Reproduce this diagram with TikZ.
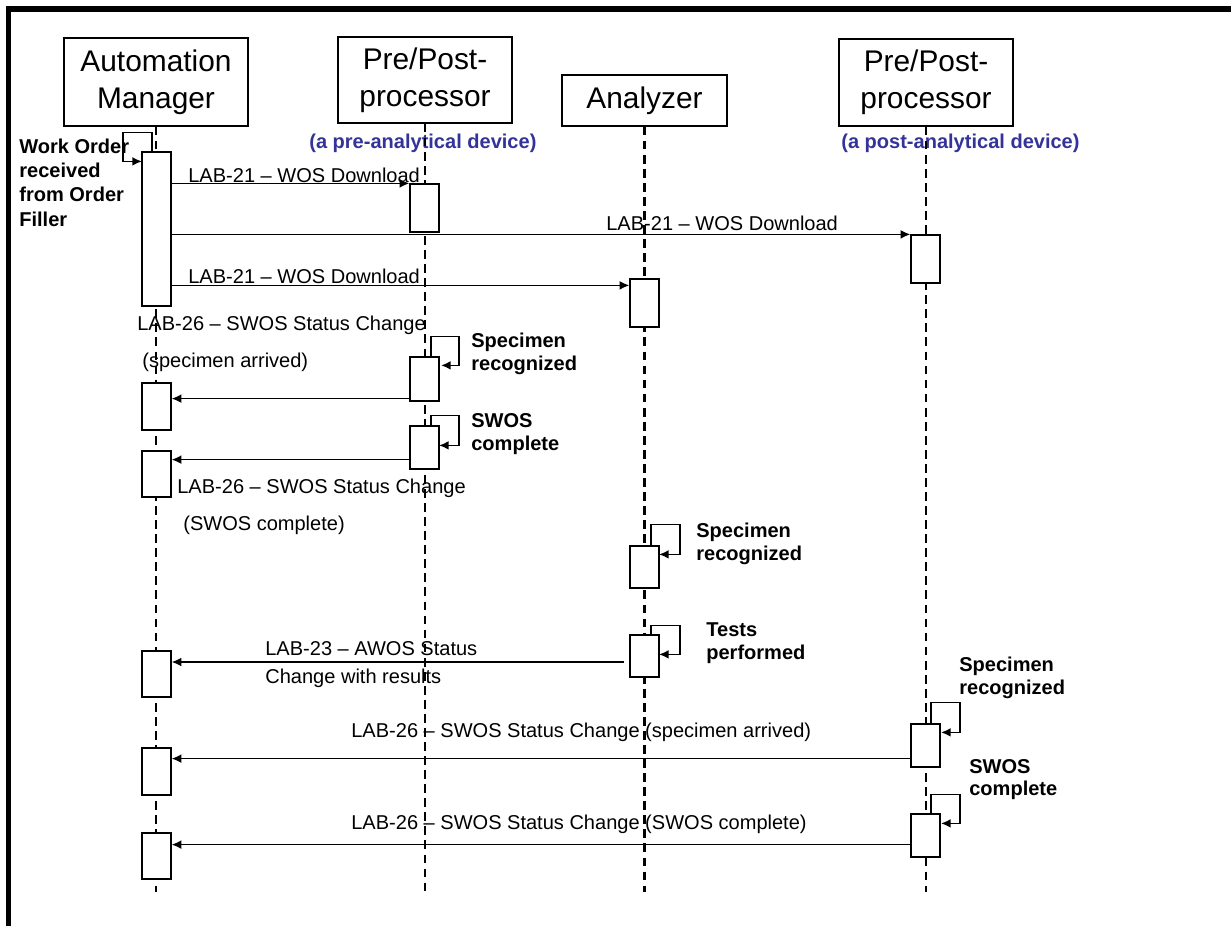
\documentclass[tikz,border=0pt]{standalone}
\usepackage{fontspec}
\setmainfont{Liberation Sans}
\usetikzlibrary{arrows.meta}
\definecolor{devblue}{RGB}{51,51,153}

\begin{document}
\begin{tikzpicture}[x=0.02cm, y=-0.02cm,
	actor/.style={draw, line width=0.75pt, align=center, inner sep=0pt, font=\fontsize{17}{21}\selectfont},
	act/.style={draw, fill=white, line width=0.7pt, minimum width=0.58cm, inner sep=0pt},
	lifeline/.style={line width=1.5pt, dash pattern=on 5pt off 3pt},
	msg/.style={-{Latex[length=5.5pt,width=5pt]}, line width=0.95pt},
	lbl/.style={anchor=west, inner sep=0pt, align=left, font=\fontsize{11.4}{13}\selectfont},
	note/.style={lbl, font=\fontsize{11.4}{13}\selectfont\bfseries}]
	\useasboundingbox (0,0) rectangle (1231,926);
	% frame
	\fill (6,6) rectangle (1231,12);
	\fill (6,6) rectangle (11,926);

	\node[actor, minimum width=3.68cm, minimum height=1.76cm] (am) at (156,82) {Automation\\Manager};
	\node[actor, minimum width=3.48cm, minimum height=1.72cm] (pre) at (425,80) {Pre/Post-\\processor};
	\node[actor, minimum width=3.3cm, minimum height=1.02cm] (ana) at (644.5,100.5) {Analyzer};
	\node[actor, minimum width=3.48cm, minimum height=1.74cm] (post) at (926,82.5) {Pre/Post-\\processor};
	\node[note, text=devblue] (predev) at (309,143) {(a pre-analytical device)};
	\node[note, text=devblue] (postdev) at (841,143) {(a post-analytical device)};

	\coordinate (bottom) at (0,892);
	\draw[lifeline] (am.south) -- (am.south |- bottom);
	\draw[lifeline] (pre.south) -- (pre.south |- bottom);
	\draw[lifeline] (ana.south) -- (ana.south |- bottom);
	\draw[lifeline] (post.south) -- (post.south |- bottom);

	% activation bars
	\node[act, minimum height=3.08cm] (am1) at (156.5,229) {};
	\node[act, minimum height=0.94cm] (am2) at (156.5,406.5) {};
	\node[act, minimum height=0.92cm] (am3) at (156.5,474) {};
	\node[act, minimum height=0.92cm] (am4) at (156.5,674) {};
	\node[act, minimum height=0.94cm] (am5) at (156.5,771.5) {};
	\node[act, minimum height=0.92cm] (am6) at (156.5,856) {};
	\node[act, minimum height=0.96cm] (pre1) at (424.5,208) {};
	\node[act, minimum height=0.88cm] (pre2) at (424.5,379) {};
	\node[act, minimum height=0.86cm] (pre3) at (424.5,447.5) {};
	\node[act, minimum height=0.96cm] (ana1) at (644.5,303) {};
	\node[act, minimum height=0.84cm] (ana2) at (644.5,567) {};
	\node[act, minimum height=0.84cm] (ana3) at (644.5,656) {};
	\node[act, minimum height=0.96cm] (post1) at (925.5,259) {};
	\node[act, minimum height=0.86cm] (post2) at (925.5,745.5) {};
	\node[act, minimum height=0.86cm] (post3) at (925.5,835.5) {};

	% self messages
	\node[note, font=\fontsize{11.4}{13.9}\selectfont\bfseries] (wo) at (19,182.5) {Work Order\\received\\from Order\\Filler};
	\draw[msg] ([xshift=-0.09cm]am1.north) -- ++(0,-19) -- ++(-29,0) -- ++(0,29) -- ++(19,0);
	\node[note] (prerec) at (471,353.5) {Specimen\\recognized};
	\draw[msg] ([xshift=0.13cm]pre2.north) -- ++(0,-20) -- ++(28,0) -- ++(0,29) -- ++(-18,0);
	\node[note] (precomp) at (471,434) {SWOS\\complete};
	\draw[msg] ([xshift=0.13cm]pre3.north) -- ++(0,-10) -- ++(28,0) -- ++(0,30) -- ++(-20,0);
	\node[note] (anarec) at (696,543.5) {Specimen\\recognized};
	\draw[msg] ([xshift=0.13cm]ana2.north) -- ++(0,-21) -- ++(29,0) -- ++(0,30) -- ++(-21,0);
	\node[note] (tests) at (706,643.5) {Tests\\performed};
	\draw[msg] ([xshift=0.13cm]ana3.north) -- ++(0,-9) -- ++(29,0) -- ++(0,29) -- ++(-21,0);
	\node[note] (postrec) at (959,678) {Specimen\\recognized};
	\draw[msg] ([xshift=0.11cm]post2.north) -- ++(0,-21) -- ++(29,0) -- ++(0,30) -- ++(-19,0);
	\node[note] (postcomp) at (969,779.5) {SWOS\\complete};
	\draw[msg] ([xshift=0.11cm]post3.north) -- ++(0,-19) -- ++(29,0) -- ++(0,29) -- ++(-19,0);

	% downloads
	\draw[msg] (am1.east |- pre1.north) -- (pre1.north west);
	\node[lbl] (dl1) at (188,175) {LAB-21 – WOS Download};
	\draw[msg] (am1.east |- post1.north) -- (post1.north west);
	\node[lbl] (dl2) at (606,223) {LAB-21 – WOS Download};
	\path (ana1.north west) ++(0,7) coordinate (m3);
	\draw[msg] (am1.east |- m3) -- (m3);
	\node[lbl] (dl3) at (188,276) {LAB-21 – WOS Download};

	% status changes
	\path (pre2.south west) ++(0,-3) coordinate (m4);
	\draw[msg] (m4) -- (am2.east |- m4);
	\node[lbl, font=\fontsize{11.4}{21}\selectfont] (st1) at (137,343.5) {LAB-26 – SWOS Status Change\\\hspace*{0.1cm}(specimen arrived)};
	\path (pre3.south west) ++(0,-10) coordinate (m5);
	\draw[msg] (m5) -- (am3.east |- m5);
	\node[lbl, font=\fontsize{11.4}{21}\selectfont] (st2) at (177,506.5) {LAB-26 – SWOS Status Change\\\hspace*{0.12cm}(SWOS complete)};
	\path (ana3.west) ++(-5,6) coordinate (m6);
	\draw[msg] (m6) -- (am4.east |- m6);
	\node[lbl, font=\fontsize{11.4}{16.4}\selectfont] (st3) at (265,664.5) {LAB-23 – AWOS Status\\Change with results};
	\path (post2.south west) ++(0,-9) coordinate (m7);
	\draw[msg] (m7) -- (am5.east |- m7);
	\node[lbl] (st4) at (351,732) {LAB-26 – SWOS Status Change (specimen arrived)};
	\path (post3.south west) ++(0,-13) coordinate (m8);
	\draw[msg] (m8) -- (am6.east |- m8);
	\node[lbl] (st5) at (351,824) {LAB-26 – SWOS Status Change (SWOS complete)};
\end{tikzpicture}
\end{document}
